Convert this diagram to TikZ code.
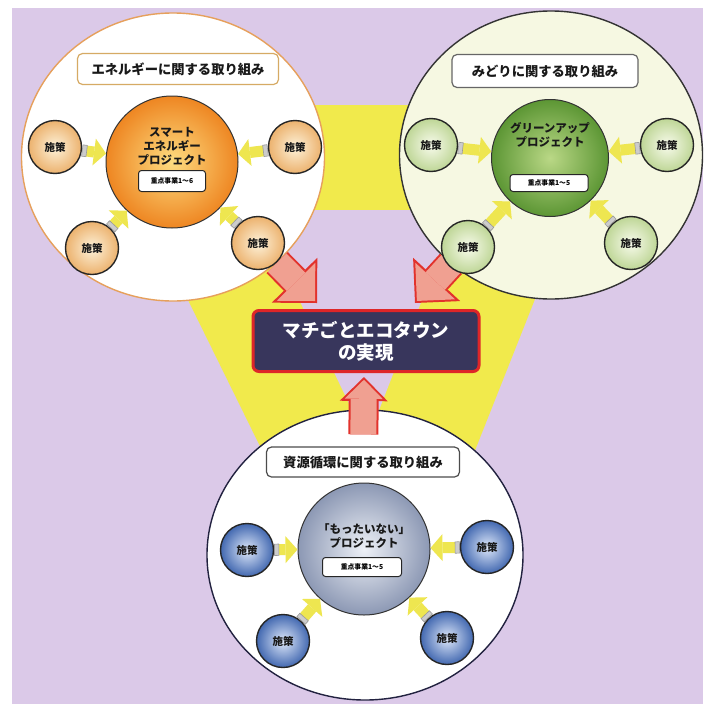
\documentclass[tikz,border=0pt]{standalone}
\usepackage{fontspec}
\setmainfont{Noto Sans CJK JP}
\usetikzlibrary{arrows.meta,shapes.geometric,positioning}

\definecolor{pagelilac}{RGB}{219,201,232}
\definecolor{bandyellow}{RGB}{241,234,76}
\definecolor{rimorange}{RGB}{230,160,92}
\definecolor{greenwash}{RGB}{246,248,226}
\definecolor{resnavy}{RGB}{34,34,64}
\definecolor{goalnavy}{RGB}{56,54,92}
\definecolor{goalred}{RGB}{222,38,40}
\definecolor{arrowred}{RGB}{226,50,44}
\definecolor{arrowpink}{RGB}{240,160,145}
\definecolor{feedyellow}{RGB}{238,230,80}

\begin{document}
\begin{tikzpicture}[
    x=1pt, y=-1pt,
    group/.style={ellipse, minimum width=303pt, minimum height=288pt, inner sep=0pt, line width=1.4pt},
    titlebox/.style={rectangle, rounded corners=5pt, line width=1.2pt, fill=white, inner sep=0pt, minimum height=31pt, text=black!90, font=\bfseries\fontsize{13.3}{15}\selectfont},
    project/.style={circle, draw=black!80, line width=1pt, minimum size=132pt, inner sep=0pt},
    projtext/.style={align=center, inner sep=0pt, text=black!90, font=\bfseries\fontsize{11.5}{14}\selectfont},
    badge/.style={rectangle, rounded corners=3pt, draw=black!85, line width=1pt, fill=white, minimum width=70pt, minimum height=19pt, inner sep=0pt, font=\bfseries\fontsize{6.8}{8}\selectfont},
    measure/.style={circle, draw=black!85, line width=1.4pt, minimum size=53pt, inner sep=0pt, text=black!90, font=\bfseries\fontsize{10.5}{12}\selectfont},
    orangeball/.style={inner color={rgb,255:red,253;green,220;blue,128}, outer color={rgb,255:red,238;green,134;blue,34}},
    orangedot/.style={inner color={rgb,255:red,253;green,242;blue,218}, outer color={rgb,255:red,236;green,178;blue,110}},
    greenball/.style={inner color={rgb,255:red,186;green,216;blue,134}, outer color={rgb,255:red,92;green,150;blue,52}},
    greendot/.style={inner color={rgb,255:red,248;green,251;blue,236}, outer color={rgb,255:red,190;green,214;blue,150}},
    greyball/.style={inner color={rgb,255:red,238;green,241;blue,247}, outer color={rgb,255:red,140;green,152;blue,180}},
    bluedot/.style={inner color={rgb,255:red,222;green,232;blue,250}, outer color={rgb,255:red,66;green,104;blue,176}},
    feed/.style={draw=feedyellow, line width=11pt, {Rectangle[length=5pt, width=12pt, line width=0.6pt, color=gray!80, fill=gray!40]}-{Triangle[length=12pt, width=27pt, line width=0pt]}},
    bigrim/.style 2 args={draw=arrowred, line width=30pt, -{Triangle[width=#1, length=#2, line width=0pt]}},
    bigfill/.style 2 args={draw=arrowpink, line width=26pt, shorten >=2.8pt, -{Triangle[width=#1, length=#2, line width=0pt]}},
    goal/.style={rectangle, rounded corners=6pt, draw=goalred, line width=3pt, fill=goalnavy, minimum width=226pt, minimum height=61pt, align=center, text=white, font=\bfseries\fontsize{18.5}{22}\selectfont}
]
    \useasboundingbox (0,0) rectangle (711,704);
    \fill[pagelilac] (12,8) rectangle (703,704);

    % yellow band behind the three groups
    \fill[bandyellow] (92,105) -- (612,105) -- (380,690) -- cycle;
    \fill[pagelilac] (256,210) -- (457,210) -- (367,441) -- cycle;

    % the three groups
    \node[group, draw=rimorange, fill=white] (energy) at (173,157) {};
    \node[group, draw=black!80, fill=greenwash] (green) at (551,155) {};
    \node[group, draw=resnavy, fill=white, minimum width=316pt, minimum height=290pt] (resource) at (365,555) {};

    \node[titlebox, draw={rgb,255:red,214;green,170;blue,100}, minimum width=201pt] (energytitle) at (178,69) {エネルギーに関する取り組み};
    \node[titlebox, draw=black!60, minimum width=186pt, minimum height=33pt] (greentitle) at (545,71) {みどりに関する取り組み};
    \node[titlebox, draw=black!70, minimum width=193pt, minimum height=30pt] (restitle) at (363,462) {資源循環に関する取り組み};

    % goal
    \node[goal] (goal) at (366,341) {マチごとエコタウン\\の実現};

    \coordinate (tipL) at (317,303);
    \coordinate (tipR) at (415,303);
    \coordinate (tipB) at (364,377);
    \draw[bigrim={64pt}{32pt}] (energy) -- (tipL);
    \draw[bigfill={54pt}{27pt}] (energy) -- (tipL);
    \draw[bigrim={64pt}{32pt}] (green) -- (tipR);
    \draw[bigfill={54pt}{27pt}] (green) -- (tipR);
    \draw[bigrim={48pt}{24pt}, shorten <=12pt] (restitle) -- (tipB);
    \draw[bigfill={38pt}{19pt}, shorten <=12pt] (restitle) -- (tipB);

    % energy
    \node[project, orangeball] (smart) at (172,162) {};
    \node[projtext] (smarttext) at (172,146) {スマート\\エネルギー\\プロジェクト};
    \node[badge, minimum width=67pt, minimum height=21pt] (smartbadge) at (172,181) {重点事業1～6};
    \node[measure, orangedot] (e1) at (55,147) {施策};
    \node[measure, orangedot] (e2) at (295,147) {施策};
    \node[measure, orangedot] (e3) at (92,248) {施策};
    \node[measure, orangedot] (e4) at (258,243) {施策};
    \draw[feed] (e1) -- (smart);
    \draw[feed] (e2) -- (smart);
    \draw[feed] (e3) -- (smart);
    \draw[feed] (e4) -- (smart);

    % green
    \node[project, greenball, minimum size=117pt] (greenup) at (550,158) {};
    \node[projtext] (greenuptext) at (550,135) {グリーンアップ\\プロジェクト};
    \node[badge, minimum width=78pt, minimum height=17pt] (greenupbadge) at (549,183) {重点事業1～5};
    \node[measure, greendot] (g1) at (431,145) {施策};
    \node[measure, greendot] (g2) at (667,145) {施策};
    \node[measure, greendot] (g3) at (468,247) {施策};
    \node[measure, greendot] (g4) at (631,243) {施策};
    \draw[feed] (g1) -- (greenup);
    \draw[feed] (g2) -- (greenup);
    \draw[feed] (g3) -- (greenup);
    \draw[feed] (g4) -- (greenup);

    % resource
    \node[project, greyball] (mottainai) at (364,549) {};
    \node[projtext] (mottainaitext) at (364,536) {「もったいない」\\プロジェクト};
    \node[badge, minimum width=79pt] (mottainaibadge) at (362,567) {重点事業1～5};
    \node[measure, bluedot] (r1) at (247,550) {施策};
    \node[measure, bluedot] (r2) at (487,547) {施策};
    \node[measure, bluedot] (r3) at (283,641) {施策};
    \node[measure, bluedot] (r4) at (447,638) {施策};
    \draw[feed] (r1) -- (mottainai);
    \draw[feed] (r2) -- (mottainai);
    \draw[feed] (r3) -- (mottainai);
    \draw[feed] (r4) -- (mottainai);
\end{tikzpicture}
\end{document}
